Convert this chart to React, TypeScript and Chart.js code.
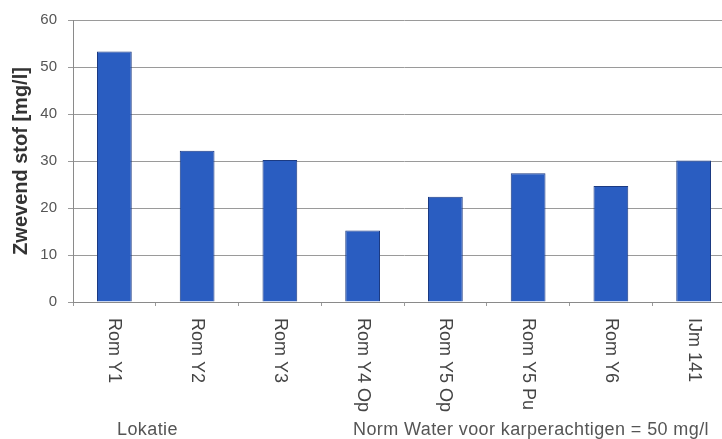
import React, { useEffect, useRef } from "react";
import { Chart, registerables } from "chart.js";

Chart.register(...registerables);

// Locations (Lokatie) and measured suspended solids in mg/l
const categories = [
  "Rom Y1",
  "Rom Y2",
  "Rom Y3",
  "Rom Y4 Op",
  "Rom Y5 Op",
  "Rom Y5 Pu",
  "Rom Y6",
  "IJm 141",
];
const zwevendStof = [53.3, 32.2, 30.2, 15.2, 22.4, 27.4, 24.7, 30.1];

const yMin = 0;
const yMax = 60;
const yStep = 10;

const yTitle = "Zwevend stof [mg/l]";
const xTitle = "Lokatie";
const normText = "Norm Water voor karperachtigen = 50 mg/l";

const FONT = "'Liberation Sans', Arial, sans-serif";
const CANVAS_W = 745;
const CANVAS_H = 439;

// Draws the axis title, the downward-rotated category labels and the footer texts
const textPlugin = {
  id: "zwevendStofTexts",
  afterDraw(chart: any) {
    const ctx = chart.ctx as CanvasRenderingContext2D & { letterSpacing?: string };
    const xScale = chart.scales.x;
    const area = chart.chartArea;

    ctx.save();
    // y axis title
    ctx.fillStyle = "#333333";
    ctx.font = `bold 20px ${FONT}`;
    ctx.textAlign = "center";
    ctx.textBaseline = "middle";
    ctx.translate(21, (area.top + area.bottom) / 2);
    ctx.rotate(-Math.PI / 2);
    ctx.fillText(yTitle, 0, 0);
    ctx.restore();

    // category labels, reading top to bottom
    ctx.save();
    ctx.fillStyle = "#444444";
    ctx.font = `18px ${FONT}`;
    ctx.textAlign = "left";
    ctx.textBaseline = "middle";
    categories.forEach((label, i) => {
      const x = xScale.getPixelForValue(i);
      ctx.save();
      ctx.translate(x, area.bottom + 16);
      ctx.rotate(Math.PI / 2);
      ctx.fillText(label, 0, 0);
      ctx.restore();
    });
    ctx.restore();

    // footer texts
    ctx.save();
    ctx.fillStyle = "#555555";
    ctx.font = `18px ${FONT}`;
    ctx.letterSpacing = "0.4px";
    ctx.textAlign = "left";
    ctx.textBaseline = "alphabetic";
    ctx.fillText(xTitle, 117, 435);
    ctx.fillText(normText, 353, 435, 358);
    ctx.restore();
  },
};

export default function App() {
  const canvasRef = useRef<HTMLCanvasElement | null>(null);

  useEffect(() => {
    if (!canvasRef.current) return;
    const chart = new Chart(canvasRef.current, {
      type: "bar",
      data: {
        labels: categories,
        datasets: [
          {
            label: yTitle,
            data: zwevendStof,
            backgroundColor: "#2a5dc1",
            borderColor: "#1b3a82",
            borderWidth: 1,
            borderSkipped: "bottom",
            barPercentage: 0.42,
            categoryPercentage: 1,
          },
        ],
      },
      options: {
        animation: false,
        responsive: false,
        devicePixelRatio: 1,
        layout: { padding: { top: 20, right: 10, left: 0, bottom: 0 } },
        plugins: {
          legend: { display: false },
          tooltip: { enabled: false },
        },
        scales: {
          x: {
            type: "category",
            offset: true,
            grid: {
              display: true,
              offset: true,
              drawOnChartArea: false,
              drawTicks: true,
              tickLength: 4,
              color: "#9a9a9a",
            },
            border: { display: true, color: "#8a8a8a" },
            ticks: { display: false },
            afterFit(scale: any) {
              scale.height = 137;
            },
          },
          y: {
            min: yMin,
            max: yMax,
            ticks: {
              stepSize: yStep,
              color: "#555555",
              padding: 11,
              font: { family: FONT, size: 15 },
            },
            grid: {
              color: "#9a9a9a",
              tickLength: 5,
              drawTicks: true,
            },
            border: { display: true, color: "#8a8a8a" },
            afterFit(scale: any) {
              scale.width = 73;
            },
          },
        },
      },
      plugins: [textPlugin],
    });
    return () => chart.destroy();
  }, []);

  return (
    <div
      style={{
        position: "absolute",
        left: 0,
        top: 0,
        width: 722,
        height: CANVAS_H,
        overflow: "hidden",
        background: "#ffffff",
      }}
    >
      <canvas
        ref={canvasRef}
        width={CANVAS_W}
        height={CANVAS_H}
        style={{ display: "block", width: CANVAS_W, height: CANVAS_H }}
      />
    </div>
  );
}
